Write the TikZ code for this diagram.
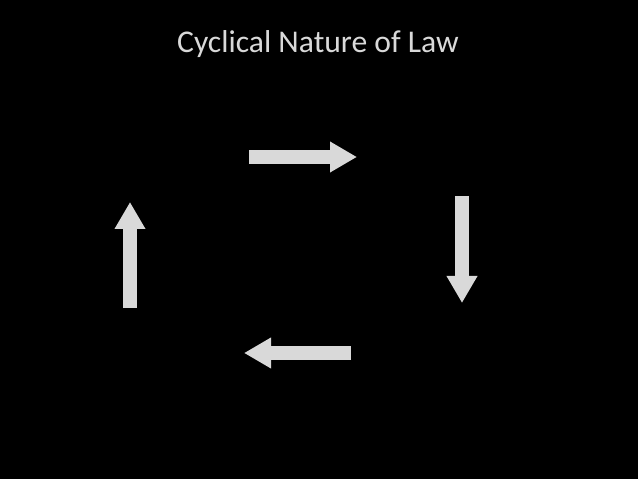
\documentclass[tikz,border=0pt]{standalone}
\usepackage{fontspec}
\setmainfont{Carlito}
\usetikzlibrary{arrows.meta}
\definecolor{arrowgray}{RGB}{217,217,217}
\tikzset{blockarrow/.style={draw=arrowgray,line width=0.27cm,-{Triangle[length=0.54cm,width=0.58cm]}}}
\begin{document}
\begin{tikzpicture}
  \fill[black] (0,0) rectangle (12.76,9.58);
  \useasboundingbox (0,0) rectangle (12.76,9.58);
  \node[text=arrowgray,font=\fontsize{18}{22}\selectfont] (title) at (6.36,8.7) {Cyclical Nature of Law};
  % the four arrows of the cycle
  \coordinate (t1) at (4.98,6.44);  \coordinate (t2) at (7.14,6.44);
  \coordinate (r1) at (9.24,5.66);  \coordinate (r2) at (9.24,3.52);
  \coordinate (b1) at (7.02,2.52);  \coordinate (b2) at (4.88,2.52);
  \coordinate (l1) at (2.6,3.42);   \coordinate (l2) at (2.6,5.54);
  \draw[blockarrow] (t1) -- (t2);
  \draw[blockarrow] (r1) -- (r2);
  \draw[blockarrow] (b1) -- (b2);
  \draw[blockarrow] (l1) -- (l2);
\end{tikzpicture}
\end{document}
